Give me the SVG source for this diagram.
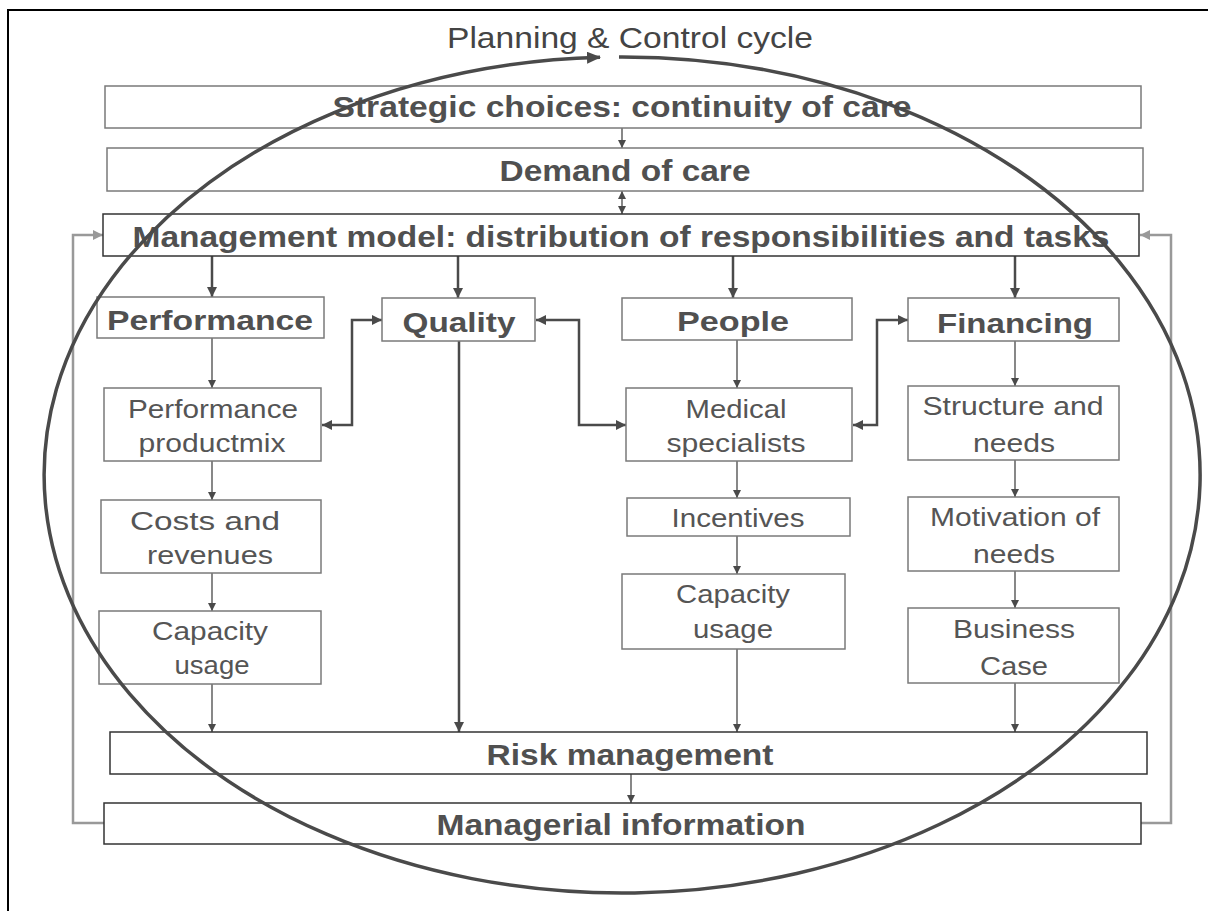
<svg xmlns="http://www.w3.org/2000/svg" width="1208" height="911" viewBox="0 0 1208 911">
  <style>
    .box { fill: #ffffff; stroke: #7a7a7a; stroke-width: 1.5; }
    .box-dark { fill: #ffffff; stroke: #333333; stroke-width: 1.5; }
    .bold { font-family: "Liberation Sans", Arial, sans-serif; font-weight: bold; fill: #505050; text-anchor: middle; }
    .reg { font-family: "Liberation Sans", Arial, sans-serif; fill: #555555; text-anchor: middle; }
    .thick { fill: none; stroke: #4a4a4a; stroke-width: 2.5; }
    .thin { fill: none; stroke: #555555; stroke-width: 1.4; }
    .feedback { fill: none; stroke: #999999; stroke-width: 2.5; }
  </style>
  <defs>
    <marker id="arrowBig" markerUnits="userSpaceOnUse" markerWidth="10" markerHeight="10" refX="10" refY="5" orient="auto-start-reverse">
      <path d="M0,0 L10,5 L0,10 z" fill="#4a4a4a"/>
    </marker>
    <marker id="arrowSmall" markerUnits="userSpaceOnUse" markerWidth="8" markerHeight="8" refX="8" refY="4" orient="auto-start-reverse">
      <path d="M0,0 L8,4 L0,8 z" fill="#4a4a4a"/>
    </marker>
    <marker id="arrowGray" markerUnits="userSpaceOnUse" markerWidth="10" markerHeight="10" refX="10" refY="5" orient="auto">
      <path d="M0,0 L10,5 L0,10 z" fill="#999999"/>
    </marker>
    <marker id="arrowCycle" markerUnits="userSpaceOnUse" markerWidth="14" markerHeight="12" refX="13" refY="6" orient="auto">
      <path d="M0,0 L14,6 L0,12 z" fill="#4a4a4a"/>
    </marker>
  </defs>

  <!-- outer frame -->
  <rect x="8" y="10" width="1230" height="930" fill="none" stroke="#000000" stroke-width="2"/>

  <!-- title -->
  <text x="630" y="48" font-family="Liberation Sans, Arial, sans-serif" font-size="29" fill="#444444" text-anchor="middle" textLength="366" lengthAdjust="spacingAndGlyphs">Planning &amp; Control cycle</text>

  <!-- connectors -->
  <g id="connectors">
    <!-- top chain -->
    <line class="thin" x1="622" y1="128" x2="622" y2="148" marker-end="url(#arrowSmall)" stroke-width="2"/>
    <line class="thin" x1="622" y1="191" x2="622" y2="214" marker-start="url(#arrowSmall)" marker-end="url(#arrowSmall)" stroke-width="2"/>
    <!-- management model to pillars -->
    <line class="thick" x1="212" y1="256" x2="212" y2="297" marker-end="url(#arrowBig)"/>
    <line class="thick" x1="458" y1="256" x2="458" y2="298" marker-end="url(#arrowBig)"/>
    <line class="thick" x1="733" y1="256" x2="733" y2="298" marker-end="url(#arrowBig)"/>
    <line class="thick" x1="1015" y1="256" x2="1015" y2="298" marker-end="url(#arrowBig)"/>
    <!-- quality straight down to risk management -->
    <line class="thick" x1="459" y1="341" x2="459" y2="732" marker-end="url(#arrowBig)" stroke-width="3"/>
    <!-- two-way links -->
    <path class="thick" d="M322 425 H352 V320 H382" marker-start="url(#arrowBig)" marker-end="url(#arrowBig)" stroke-width="3"/>
    <path class="thick" d="M536 320 H579 V425 H626" marker-start="url(#arrowBig)" marker-end="url(#arrowBig)" stroke-width="3"/>
    <path class="thick" d="M853 425 H877 V320 H908" marker-start="url(#arrowBig)" marker-end="url(#arrowBig)" stroke-width="3"/>
    <!-- performance column -->
    <line class="thin" x1="212" y1="338" x2="212" y2="388" marker-end="url(#arrowSmall)"/>
    <line class="thin" x1="212" y1="461" x2="212" y2="500" marker-end="url(#arrowSmall)"/>
    <line class="thin" x1="212" y1="573" x2="212" y2="611" marker-end="url(#arrowSmall)"/>
    <line class="thin" x1="212" y1="684" x2="212" y2="732" marker-end="url(#arrowSmall)"/>
    <!-- people column -->
    <line class="thin" x1="737" y1="340" x2="737" y2="388" marker-end="url(#arrowSmall)"/>
    <line class="thin" x1="737" y1="461" x2="737" y2="498" marker-end="url(#arrowSmall)"/>
    <line class="thin" x1="737" y1="536" x2="737" y2="574" marker-end="url(#arrowSmall)"/>
    <line class="thin" x1="737" y1="649" x2="737" y2="732" marker-end="url(#arrowSmall)"/>
    <!-- financing column -->
    <line class="thin" x1="1015" y1="341" x2="1015" y2="386" marker-end="url(#arrowSmall)"/>
    <line class="thin" x1="1015" y1="460" x2="1015" y2="497" marker-end="url(#arrowSmall)"/>
    <line class="thin" x1="1015" y1="571" x2="1015" y2="608" marker-end="url(#arrowSmall)"/>
    <line class="thin" x1="1015" y1="683" x2="1015" y2="732" marker-end="url(#arrowSmall)"/>
    <!-- risk to information -->
    <line class="thin" x1="631" y1="774" x2="631" y2="803" marker-end="url(#arrowSmall)" stroke-width="2"/>
    <!-- feedback loops -->
    <path class="feedback" d="M104 823 H73 V235 H103" marker-end="url(#arrowGray)"/>
    <path class="feedback" d="M1141 823 H1171 V235 H1140" marker-end="url(#arrowGray)"/>
  </g>

  <g id="strategic">
    <rect class="box" x="105" y="86" width="1036" height="42"/>
    <text class="bold" x="622" y="117" font-size="29" textLength="579" lengthAdjust="spacingAndGlyphs">Strategic choices: continuity of care</text>
  </g>
  <g id="demand">
    <rect class="box" x="107" y="148" width="1036" height="43"/>
    <text class="bold" x="625" y="181" font-size="29" textLength="251" lengthAdjust="spacingAndGlyphs">Demand of care</text>
  </g>
  <g id="management-model">
    <rect class="box-dark" x="103" y="214" width="1036" height="42"/>
    <text class="bold" x="621" y="247" font-size="30" textLength="977" lengthAdjust="spacingAndGlyphs">Management model: distribution of responsibilities and tasks</text>
  </g>

  <g id="performance">
    <rect class="box" x="97" y="297" width="227" height="41"/>
    <text class="bold" x="210" y="330" font-size="28" textLength="206" lengthAdjust="spacingAndGlyphs">Performance</text>
  </g>
  <g id="quality">
    <rect class="box" x="382" y="298" width="153" height="43"/>
    <text class="bold" x="459" y="332" font-size="28" textLength="113" lengthAdjust="spacingAndGlyphs">Quality</text>
  </g>
  <g id="people">
    <rect class="box" x="622" y="298" width="230" height="42"/>
    <text class="bold" x="733" y="331" font-size="28" textLength="112" lengthAdjust="spacingAndGlyphs">People</text>
  </g>
  <g id="financing">
    <rect class="box" x="908" y="298" width="211" height="43"/>
    <text class="bold" x="1015" y="333" font-size="28" textLength="156" lengthAdjust="spacingAndGlyphs">Financing</text>
  </g>

  <g id="performance-productmix">
    <rect class="box" x="104" y="388" width="217" height="73"/>
    <text class="reg" x="213" y="418" font-size="25" textLength="170" lengthAdjust="spacingAndGlyphs">Performance</text>
    <text class="reg" x="212" y="452" font-size="25" textLength="147" lengthAdjust="spacingAndGlyphs">productmix</text>
  </g>
  <g id="costs-revenues">
    <rect class="box" x="101" y="500" width="220" height="73"/>
    <text class="reg" x="205" y="530" font-size="25" textLength="150" lengthAdjust="spacingAndGlyphs">Costs and</text>
    <text class="reg" x="210" y="564" font-size="25" textLength="126" lengthAdjust="spacingAndGlyphs">revenues</text>
  </g>
  <g id="capacity-usage-left">
    <rect class="box" x="99" y="611" width="222" height="73"/>
    <text class="reg" x="210" y="640" font-size="25" textLength="116" lengthAdjust="spacingAndGlyphs">Capacity</text>
    <text class="reg" x="212" y="674" font-size="25" textLength="75" lengthAdjust="spacingAndGlyphs">usage</text>
  </g>

  <g id="medical-specialists">
    <rect class="box" x="626" y="388" width="226" height="73"/>
    <text class="reg" x="736" y="418" font-size="25" textLength="101" lengthAdjust="spacingAndGlyphs">Medical</text>
    <text class="reg" x="736" y="452" font-size="25" textLength="139" lengthAdjust="spacingAndGlyphs">specialists</text>
  </g>
  <g id="incentives">
    <rect class="box" x="627" y="498" width="223" height="38"/>
    <text class="reg" x="738" y="527" font-size="25" textLength="133" lengthAdjust="spacingAndGlyphs">Incentives</text>
  </g>
  <g id="capacity-usage-right">
    <rect class="box" x="622" y="574" width="223" height="75"/>
    <text class="reg" x="733" y="603" font-size="25" textLength="114" lengthAdjust="spacingAndGlyphs">Capacity</text>
    <text class="reg" x="733" y="638" font-size="25" textLength="80" lengthAdjust="spacingAndGlyphs">usage</text>
  </g>

  <g id="structure-needs">
    <rect class="box" x="908" y="386" width="211" height="74"/>
    <text class="reg" x="1013" y="415" font-size="25" textLength="181" lengthAdjust="spacingAndGlyphs">Structure and</text>
    <text class="reg" x="1014" y="452" font-size="25" textLength="82" lengthAdjust="spacingAndGlyphs">needs</text>
  </g>
  <g id="motivation-needs">
    <rect class="box" x="908" y="497" width="211" height="74"/>
    <text class="reg" x="1015" y="526" font-size="25" textLength="170" lengthAdjust="spacingAndGlyphs">Motivation of</text>
    <text class="reg" x="1014" y="563" font-size="25" textLength="82" lengthAdjust="spacingAndGlyphs">needs</text>
  </g>
  <g id="business-case">
    <rect class="box" x="908" y="608" width="211" height="75"/>
    <text class="reg" x="1014" y="638" font-size="25" textLength="122" lengthAdjust="spacingAndGlyphs">Business</text>
    <text class="reg" x="1014" y="675" font-size="25" textLength="68" lengthAdjust="spacingAndGlyphs">Case</text>
  </g>

  <g id="risk-management">
    <rect class="box-dark" x="110" y="732" width="1037" height="42"/>
    <text class="bold" x="630" y="765" font-size="29" textLength="287" lengthAdjust="spacingAndGlyphs">Risk management</text>
  </g>
  <g id="managerial-information">
    <rect class="box-dark" x="104" y="803" width="1037" height="41"/>
    <text class="bold" x="621" y="835" font-size="29" textLength="369" lengthAdjust="spacingAndGlyphs">Managerial information</text>
  </g>

  <!-- planning & control cycle loop -->
  <g id="cycle">
    <path d="M619 57 A578 418 0 1 1 600 57.3" fill="none" stroke="#4a4a4a" stroke-width="3.5" marker-end="url(#arrowCycle)"/>
  </g>
</svg>
